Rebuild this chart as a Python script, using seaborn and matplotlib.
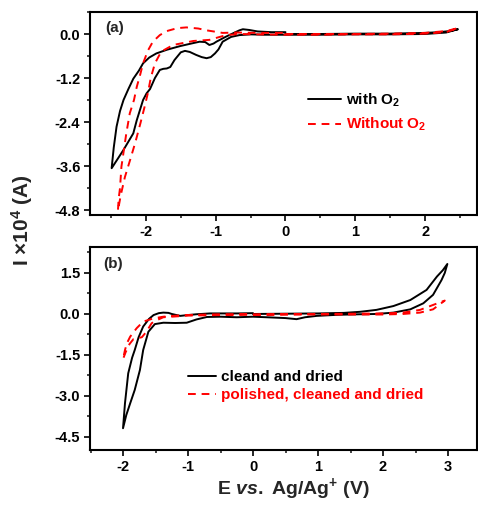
import numpy as np
import pandas as pd
import matplotlib
matplotlib.use("Agg")
import matplotlib.pyplot as plt
from matplotlib.lines import Line2D
from matplotlib.ticker import MultipleLocator, FormatStrFormatter
import seaborn as sns

# ---------------- data ----------------
# Panel (a): with O2 (black) -- scan 0 -> +2.5 -> -2.5 -> 0
a_withO2_E = [0.0, 0.5, 1.0, 1.5, 2.0, 2.2, 2.35, 2.47,
              2.3, 2.0, 1.5, 1.0, 0.5, 0.0, -0.3, -0.5, -0.66, -0.78,
              -0.90, -0.96, -1.01, -1.07, -1.13, -1.20, -1.28, -1.37, -1.44, -1.50,
              -1.59, -1.65, -1.70, -1.75, -1.80, -1.87, -1.94, -1.99, -2.04, -2.13,
              -2.18, -2.32, -2.49,
              -2.46, -2.42, -2.37, -2.32, -2.25, -2.18, -2.10, -2.04, -1.95, -1.85,
              -1.70, -1.51, -1.35, -1.23, -1.15, -1.09, -1.03, -0.99, -0.90, -0.85,
              -0.75, -0.66, -0.61, -0.52, -0.40, -0.20, 0.0]
a_withO2_I = [0.0, 0.0, 0.01, 0.01, 0.03, 0.05, 0.08, 0.13,
              0.04, 0.0, -0.01, -0.01, -0.02, -0.02, -0.02, -0.01, -0.03, -0.08,
              -0.21, -0.42, -0.53, -0.63, -0.66, -0.63, -0.57, -0.49, -0.46, -0.50,
              -0.71, -0.90, -0.94, -0.95, -0.98, -1.20, -1.50, -1.62, -1.80, -2.35,
              -2.71, -3.16, -3.66,
              -3.10, -2.53, -2.10, -1.80, -1.50, -1.22, -1.00, -0.80, -0.64, -0.53,
              -0.43, -0.33, -0.26, -0.21, -0.22, -0.30, -0.26, -0.21, -0.12, -0.07,
              0.02, 0.10, 0.13, 0.11, 0.07, 0.05, 0.05]

# Panel (a): without O2 (red dashed)
a_noO2_E = [0.0, 0.5, 1.0, 1.5, 2.0, 2.3, 2.47,
            2.3, 2.0, 1.5, 1.0, 0.5, 0.0, -0.4, -0.66,
            -0.85, -1.09, -1.32, -1.61, -1.78, -1.87, -1.93, -1.97, -2.02, -2.08,
            -2.15, -2.22, -2.30, -2.36, -2.40,
            -2.39, -2.37, -2.35, -2.31, -2.28, -2.23, -2.17, -2.13, -2.08, -2.04,
            -1.97, -1.90, -1.80, -1.70, -1.55, -1.42, -1.25, -1.13, -0.90, -0.70,
            -0.40, 0.0]
a_noO2_I = [0.0, 0.0, 0.0, 0.01, 0.03, 0.08, 0.16,
            0.05, 0.01, -0.01, -0.01, -0.02, -0.02, -0.01, 0.0,
            -0.03, -0.16, -0.19, -0.30, -0.48, -0.80, -1.20, -1.60, -2.00, -2.45,
            -2.95, -3.40, -3.90, -4.40, -4.82,
            -4.50, -4.20, -3.62, -3.10, -2.71, -2.16, -1.80, -1.44, -1.10, -0.80,
            -0.45, -0.21, -0.03, 0.08, 0.16, 0.18, 0.15, 0.10, 0.03, 0.04,
            0.03, 0.03]

# Panel (b): cleaned and dried (black) -- scan 0 -> +3 -> -2 -> 0
b_clean_E = [0.0, 0.5, 1.0, 1.4, 1.65, 1.90, 2.16, 2.42, 2.67, 2.83, 2.92, 2.99,
             2.95, 2.90, 2.77, 2.62, 2.42, 2.16, 1.90, 1.65, 1.30, 0.98, 0.80, 0.67,
             0.50, 0.21, 0.0, -0.25, -0.50, -0.71, -0.87, -1.02, -1.20, -1.38, -1.51,
             -1.61, -1.69, -1.74, -1.82, -1.89, -1.95, -2.0,
             -1.97, -1.92, -1.86, -1.82, -1.76, -1.69, -1.60, -1.53, -1.45, -1.38,
             -1.30, -1.25, -1.12, -1.0, -0.87, -0.66, -0.25, 0.0]
b_clean_I = [0.0, 0.01, 0.02, 0.04, 0.08, 0.15, 0.29, 0.51, 0.88, 1.37, 1.60, 1.83,
             1.50, 1.24, 0.70, 0.39, 0.17, 0.05, 0.0, -0.01, -0.03, -0.07, -0.12, -0.19,
             -0.15, -0.12, -0.10, -0.12, -0.10, -0.11, -0.20, -0.32, -0.33, -0.32, -0.37,
             -0.65, -1.32, -2.05, -2.78, -3.27, -3.70, -4.18,
             -3.27, -2.17, -1.60, -1.32, -0.85, -0.46, -0.18, -0.04, 0.03, 0.05,
             0.04, 0.0, -0.07, -0.04, -0.01, 0.02, 0.02, 0.03]

# Panel (b): polished, cleaned and dried (red dashed)
b_polish_E = [0.0, 0.5, 1.0, 1.5, 2.0, 2.31, 2.57, 2.77, 2.95,
              2.77, 2.57, 2.31, 2.0, 1.5, 1.0, 0.5, 0.0, -0.5, -1.0, -1.38, -1.50,
              -1.56, -1.64, -1.71, -1.78, -1.84, -1.90, -1.96, -2.0,
              -1.97, -1.94, -1.89, -1.79, -1.69, -1.53, -1.38, -1.07, -0.5, 0.0]
b_polish_I = [-0.02, -0.01, 0.0, 0.01, 0.02, 0.05, 0.15, 0.33, 0.49,
              0.17, 0.05, 0.0, -0.02, -0.02, -0.02, -0.02, -0.03, -0.04, -0.06, -0.12, -0.25,
              -0.34, -0.65, -0.85, -0.89, -0.92, -1.10, -1.40, -1.65,
              -1.32, -1.07, -0.83, -0.52, -0.28, -0.16, -0.10, -0.04, -0.01, 0.0]

a_labels = ["with O$_2$", "Without O$_2$"]
b_labels = ["cleand and dried", "polished, cleaned and dried"]

# ---------------- style ----------------
sns.set_style("ticks")
plt.rcParams["font.family"] = ["Liberation Sans", "DejaVu Sans"]
plt.rcParams["font.weight"] = "bold"
plt.rcParams["mathtext.fontset"] = "custom"
plt.rcParams["mathtext.rm"] = "Liberation Sans:bold"
plt.rcParams["mathtext.bf"] = "Liberation Sans:bold"
plt.rcParams["mathtext.it"] = "Liberation Sans:italic:bold"
plt.rcParams["axes.unicode_minus"] = False

RED = "#ff0000"
BLK = "#000000"
LW = 1.4

fig = plt.figure(figsize=(4.78, 5.07), dpi=100)
W, H = 478.0, 507.0
ax1 = fig.add_axes([90 / W, 1 - 215 / H, 387 / W, 203 / H])
ax2 = fig.add_axes([90 / W, 1 - 450 / H, 387 / W, 203 / H])


def draw(ax, E, I, color, dashed):
    df = pd.DataFrame({"E": E, "I": I})
    kw = dict(dashes=(4, 3)) if dashed else {}
    sns.lineplot(data=df, x="E", y="I", sort=False, estimator=None, color=color,
                 linewidth=LW, ax=ax, **kw)


draw(ax1, a_withO2_E, a_withO2_I, BLK, False)
draw(ax1, a_noO2_E, a_noO2_I, RED, True)
draw(ax2, b_clean_E, b_clean_I, BLK, False)
draw(ax2, b_polish_E, b_polish_I, RED, True)

ax1.set_xlim(-2.8, 2.743)
ax1.set_ylim(-4.936, 0.6)
ax2.set_xlim(-2.508, 3.446)
ax2.set_ylim(-4.976, 2.45)

ax1.xaxis.set_major_locator(MultipleLocator(1))
ax1.xaxis.set_minor_locator(MultipleLocator(0.5))
ax1.yaxis.set_major_locator(MultipleLocator(1.2))
ax1.yaxis.set_minor_locator(MultipleLocator(0.6))
ax1.yaxis.set_major_formatter(FormatStrFormatter("%.1f"))
ax2.xaxis.set_major_locator(MultipleLocator(1))
ax2.xaxis.set_minor_locator(MultipleLocator(0.5))
ax2.yaxis.set_major_locator(MultipleLocator(1.5))
ax2.yaxis.set_minor_locator(MultipleLocator(0.75))
ax2.yaxis.set_major_formatter(FormatStrFormatter("%.1f"))

for ax in (ax1, ax2):
    ax.set_xlabel("")
    ax.set_ylabel("")
    for s in ax.spines.values():
        s.set_linewidth(1.5)
        s.set_color("black")
    ax.tick_params(which="major", direction="out", length=4, width=1.2,
                   labelsize=10.5, pad=3, colors="black")
    ax.tick_params(which="minor", direction="out", length=2.5, width=1.2)
    for lab in ax.get_xticklabels() + ax.get_yticklabels():
        lab.set_fontweight("bold")

ax1.text(0.039, 0.92, "(a)", transform=ax1.transAxes, fontsize=11,
         fontweight="bold", va="center", ha="left")
ax2.text(0.033, 0.916, "(b)", transform=ax2.transAxes, fontsize=11,
         fontweight="bold", va="center", ha="left")

h_a = [Line2D([], [], color=BLK, lw=LW),
       Line2D([], [], color=RED, lw=LW, dashes=(4, 3))]
leg1 = ax1.legend(h_a, a_labels, loc="center left", bbox_to_anchor=(0.563, 0.505),
                  frameon=False, handlelength=2.2, handletextpad=0.3,
                  labelspacing=0.45, borderpad=0, borderaxespad=0,
                  labelcolor=[BLK, RED], prop={"weight": "bold", "size": 11})

h_b = [Line2D([], [], color=BLK, lw=LW),
       Line2D([], [], color=RED, lw=LW, dashes=(4, 3))]
leg2 = ax2.legend(h_b, b_labels, loc="center left", bbox_to_anchor=(0.253, 0.315),
                  frameon=False, handlelength=1.85, handletextpad=0.3,
                  labelspacing=0.25, borderpad=0, borderaxespad=0,
                  labelcolor=[BLK, RED], prop={"weight": "bold", "size": 11})

fig.text(22 / W, 1 - 220 / H, "I ×10$^4$ (A)", rotation=90, fontsize=15,
         fontweight="bold", ha="center", va="center")
fig.text(293 / W, 1 - 489 / H, "E $\\mathit{vs.}$ Ag/Ag$^{+}$ (V)", fontsize=14,
         fontweight="bold", ha="center", va="center")

fig.savefig("out.png", dpi=100)
